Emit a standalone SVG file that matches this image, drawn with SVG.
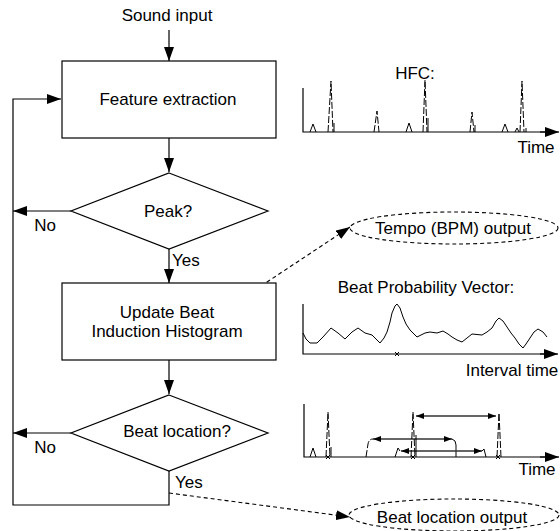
<svg xmlns="http://www.w3.org/2000/svg" width="560" height="531" viewBox="0 0 560 531">
<defs>
<style>
text{font-family:"Liberation Sans",Arial,sans-serif;font-size:17px;fill:#000}
.c{text-anchor:middle}
.ln{fill:none;stroke:#000;stroke-width:1.2}
.box{fill:#fff;stroke:#000;stroke-width:1.2}
.dl{fill:none;stroke:#000;stroke-width:1.1;stroke-dasharray:4,3}
.sig{fill:none;stroke:#000;stroke-width:1;stroke-dasharray:7,2}
.thin{fill:none;stroke:#000;stroke-width:1}
.ax{fill:none;stroke:#000;stroke-width:1.2}
.ell{fill:#fff;stroke:#000;stroke-width:1.1;stroke-dasharray:4,3}
.meas{fill:none;stroke:#333;stroke-width:1.3}
</style>
<marker id="ah" viewBox="0 0 14 10" refX="14" refY="5" markerWidth="14" markerHeight="10" markerUnits="userSpaceOnUse" orient="auto">
<path d="M0,0 L14,5 L0,10 z" fill="#000"/>
</marker>
<marker id="sa" viewBox="0 0 8 6" refX="8" refY="3" markerWidth="8" markerHeight="6" markerUnits="userSpaceOnUse" orient="auto">
<path d="M0,0 L8,3 L0,6 z" fill="#000"/>
</marker>
<marker id="sb" viewBox="0 0 8 6" refX="0" refY="3" markerWidth="8" markerHeight="6" markerUnits="userSpaceOnUse" orient="auto">
<path d="M8,0 L0,3 L8,6 z" fill="#000"/>
</marker>
</defs>

<g id="connectors">
<path class="ln" d="M169,30 V61" marker-end="url(#ah)"/>
<path class="ln" d="M169,138 V172" marker-end="url(#ah)"/>
<path class="ln" d="M169,249 V283" marker-end="url(#ah)"/>
<path class="ln" d="M169,360 V394" marker-end="url(#ah)"/>
<path class="ln" d="M71,211 H13" marker-end="url(#ah)"/>
<path class="ln" d="M71,433 H13" marker-end="url(#ah)"/>
<path class="ln" d="M169,471 V505 H13 V99 H61" marker-end="url(#ah)"/>
<path class="dl" d="M255,290 L350,227" marker-end="url(#ah)"/>
<path class="dl" d="M169,493 L350,517" marker-end="url(#ah)"/>
<text x="45" y="231" class="c">No</text>
<text x="172" y="266">Yes</text>
<text x="45" y="453" class="c">No</text>
<text x="175" y="488">Yes</text>
</g>

<g id="sound-input">
<text x="167" y="21" class="c">Sound input</text>
</g>

<g id="feature-extraction">
<rect class="box" x="62" y="61" width="214" height="77"/>
<text x="168" y="105" class="c">Feature extraction</text>
</g>

<g id="peak">
<polygon class="box" points="169,173 268,211 169,249 71,211"/>
<text x="168" y="217" class="c">Peak?</text>
</g>

<g id="update-histogram">
<rect class="box" x="62" y="283" width="214" height="77"/>
<text x="167" y="318" class="c">Update Beat</text>
<text x="167" y="337" class="c">Induction Histogram</text>
</g>

<g id="beat-location">
<polygon class="box" points="169,395 268,433 169,471 71,433"/>
<text x="177" y="437" class="c">Beat location?</text>
</g>

<g id="tempo-output">
<ellipse class="ell" cx="454" cy="228" rx="104" ry="16"/>
<text x="453" y="234" class="c">Tempo (BPM) output</text>
</g>

<g id="beat-output">
<ellipse class="ell" cx="454" cy="515" rx="105" ry="16"/>
<text x="452" y="523" class="c">Beat location output</text>
</g>

<g id="hfc-plot">
<text x="415" y="79" class="c">HFC:</text>
<path class="ax" d="M303,88 V132 H545"/>
<path class="ax" d="M540,132 H559" marker-end="url(#ah)"/>
<path class="thin" d="M310,132 L313,124 L316,132"/>
<path class="sig" d="M328,132 L331,81 L333,132"/>
<path class="thin" d="M334,132 V123"/>
<path class="sig" d="M374,132 L377,111 L379,132"/>
<path class="thin" d="M406,132 L409,123 L412,132"/>
<path class="sig" d="M423,132 L425,80 L427,132"/>
<path class="thin" d="M428,132 V118"/>
<path class="sig" d="M470,132 L472,112 L474,132"/>
<path class="thin" d="M475,132 V125"/>
<path class="thin" d="M502,132 L505,124 L508,132"/>
<path class="thin" d="M515,132 L517,128 L519,132"/>
<path class="sig" d="M520,132 L522,81 L524,132"/>
<path class="thin" d="M526,132 V128"/>
<text x="536" y="153" class="c">Time</text>
</g>

<g id="bpv-plot">
<text x="426" y="293" class="c">Beat Probability Vector:</text>
<path class="ax" d="M303,304 V354 H545"/>
<path class="ax" d="M540,354 H558" marker-end="url(#ah)"/>
<path class="thin" d="M395,352 L399,356 M399,352 L395,356"/>
<polyline class="thin" stroke-linejoin="round" points="303,333 306,339 310,343 317,343 323,337 331,328 338,333 345,339 352,332 358,328 365,333 372,335 376,339 380,343 384,338 387,332 390,322 392,313 395,306 397,304 400,308 403,317 406,324 410,330 417,337 425,333 430,332 437,333 443,331 448,334 452,337 457,340 462,342 467,338 472,334 482,335 487,332 492,328 496,321 499,318 503,321 507,327 511,333 515,338 519,344 523,348 526,344 530,338 534,332 538,329 543,332 547,337"/>
<text x="512" y="376" class="c">Interval time</text>
</g>

<g id="beat-plot">
<path class="ax" d="M304,404 V457 H545"/>
<path class="ax" d="M540,457 H559" marker-end="url(#ah)"/>
<path class="thin" d="M310,457 L313,448 L316,457"/>
<path class="sig" d="M326,457 L328,412 L330,457"/>
<path class="thin" d="M331,457 V447"/>
<path class="sig" d="M366,457 L368,444 Q369,439 373,439"/>
<path class="meas" d="M373,439 H452" marker-start="url(#sb)" marker-end="url(#sa)"/>
<path class="thin" d="M452,439 Q456,440 456,445 V457"/>
<path class="thin" d="M395,457 L398,448 L400,451"/>
<path class="meas" d="M401,451 H482" marker-start="url(#sb)" marker-end="url(#sa)"/>
<path class="thin" d="M482,451 L484,449 L486,457"/>
<path class="sig" d="M411,457 L413,412 L415,457"/>
<path class="thin" d="M416,457 V435"/>
<path class="meas" d="M416,416 H496" marker-start="url(#sb)" marker-end="url(#sa)"/>
<path class="sig" d="M497,457 L499,413 L501,457"/>
<path class="thin" d="M326,455 L330,459 M330,455 L326,459 M411,455 L415,459 M415,455 L411,459 M496,455 L500,459 M500,455 L496,459"/>
<text x="537" y="475" class="c">Time</text>
</g>
</svg>
